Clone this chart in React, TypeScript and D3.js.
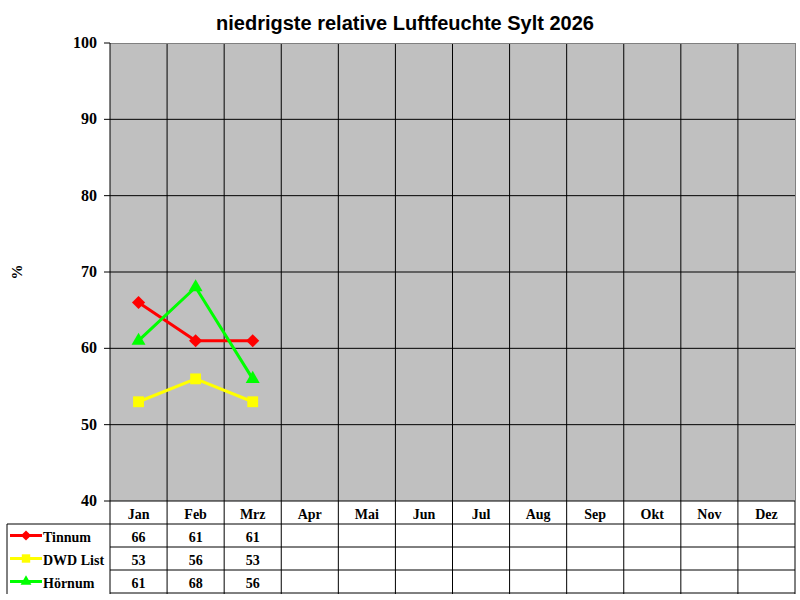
import React from "react";
import * as d3 from "d3";

const months = ["Jan", "Feb", "Mrz", "Apr", "Mai", "Jun", "Jul", "Aug", "Sep", "Okt", "Nov", "Dez"];
const tinnum = [66, 61, 61];
const dwdList = [53, 56, 53];
const hoernum = [61, 68, 56];
const yTicks = [40, 50, 60, 70, 80, 90, 100];

const series = [
  {name: "Tinnum", values: tinnum, color: "#ff0000", marker: "diamond"},
  {name: "DWD List", values: dwdList, color: "#ffff00", marker: "square"},
  {name: "Hörnum", values: hoernum, color: "#00ff00", marker: "triangle"},
];

const W = 800;
const H = 600;
const left = 110;
const right = 795;
const top = 43;
const bottom = 501;
const rowH = 23;
const tableLeft = 7;

const symbolFor = (m: string) =>
  m === "diamond" ? d3.symbolDiamond2 : m === "square" ? d3.symbolSquare2 : d3.symbolTriangle2;

const Marker = ({kind, x, y, color, scale = 1}: {kind: string, x: number, y: number, color: string, scale?: number}) => {
  const size = (kind === "square" ? 150 : kind === "diamond" ? 110 : 140) * scale;
  const path = d3.symbol().type(symbolFor(kind)).size(size)();
  return <path d={path || ""} transform={`translate(${x},${y})`} fill={color}/>;
};

const App = () => {
  const x = d3.scaleBand<string>().domain(months).range([left, right]);
  const y = d3.scaleLinear().domain([40, 100]).range([bottom, top]);
  const line = d3.line<number>()
    .x((_, i) => (x(months[i]) || 0) + x.bandwidth() / 2)
    .y(d => y(d));
  const font = "'Times New Roman', 'Liberation Serif', serif";

  return (
    <svg width={W} height={H} style={{position: "absolute", left: 0, top: 0}}>
      <rect x={0} y={0} width={W} height={H} fill="white"/>
      <text x={405} y={30} textAnchor="middle" fontFamily="Arial, 'Liberation Sans', sans-serif"
            fontWeight="bold" fontSize={20}>niedrigste relative Luftfeuchte Sylt 2026</text>
      <rect x={left} y={top} width={right - left} height={bottom - top} fill="#c0c0c0"/>
      {yTicks.slice(1, -1).map(t => (
        <line key={t} x1={left} x2={right} y1={y(t)} y2={y(t)} stroke="black"/>
      ))}
      {months.slice(1).map(m => (
        <line key={m} x1={x(m)} x2={x(m)} y1={top} y2={H - 6} stroke="black"/>
      ))}
      <line x1={left} x2={right} y1={top + 0.5} y2={top + 0.5} stroke="#808080"/>
      <line x1={right + 0.5} x2={right + 0.5} y1={top} y2={bottom} stroke="#808080"/>
      <line x1={left} x2={left} y1={top} y2={H - 6} stroke="black"/>
      {yTicks.map(t => (
        <g key={t}>
          <line x1={left - 6} x2={left} y1={y(t)} y2={y(t)} stroke="black"/>
          <text x={left - 13} y={y(t) + 5} textAnchor="end" fontFamily={font}
                fontWeight="bold" fontSize={16}>{t}</text>
        </g>
      ))}
      <text transform={`translate(22,272) rotate(-90)`} textAnchor="middle" fontFamily={font}
            fontWeight="bold" fontSize={15}>%</text>
      {/* table */}
      {[0, 1, 2, 3].map(r => (
        <line key={r} x1={r === 0 ? tableLeft : left} x2={right} y1={bottom + rowH * (r + 1)}
              y2={bottom + rowH * (r + 1)} stroke="black"/>
      ))}
      <line x1={left} x2={right} y1={bottom} y2={bottom} stroke="black"/>
      <line x1={tableLeft} x2={tableLeft} y1={bottom + rowH} y2={H - 6} stroke="black"/>
      <line x1={right} x2={right} y1={bottom} y2={H - 6} stroke="black"/>
      {months.map(m => (
        <text key={m} x={(x(m) || 0) + x.bandwidth() / 2} y={bottom + 18} textAnchor="middle"
              fontFamily={font} fontWeight="bold" fontSize={14}>{m}</text>
      ))}
      {series.map((s, r) => {
        const cy = bottom + rowH * (r + 1) + rowH / 2;
        return (
          <g key={s.name}>
            <line x1={10} x2={42} y1={cy} y2={cy} stroke={s.color} strokeWidth={3}/>
            <Marker kind={s.marker} x={26} y={cy} color={s.color} scale={0.6}/>
            <text x={43} y={cy + 6} fontFamily={font} fontWeight="bold" fontSize={14}>{s.name}</text>
            {s.values.map((v, i) => (
              <text key={i} x={(x(months[i]) || 0) + x.bandwidth() / 2} y={cy + 6} textAnchor="middle"
                    fontFamily={font} fontWeight="bold" fontSize={14}>{v}</text>
            ))}
          </g>
        );
      })}
      {/* lines */}
      {series.map(s => (
        <g key={s.name}>
          <path d={line(s.values) || ""} fill="none" stroke={s.color} strokeWidth={3}/>
          {s.values.map((v, i) => (
            <Marker key={i} kind={s.marker} x={(x(months[i]) || 0) + x.bandwidth() / 2} y={y(v)}
                    color={s.color}/>
          ))}
        </g>
      ))}
    </svg>
  );
};

export default App;
